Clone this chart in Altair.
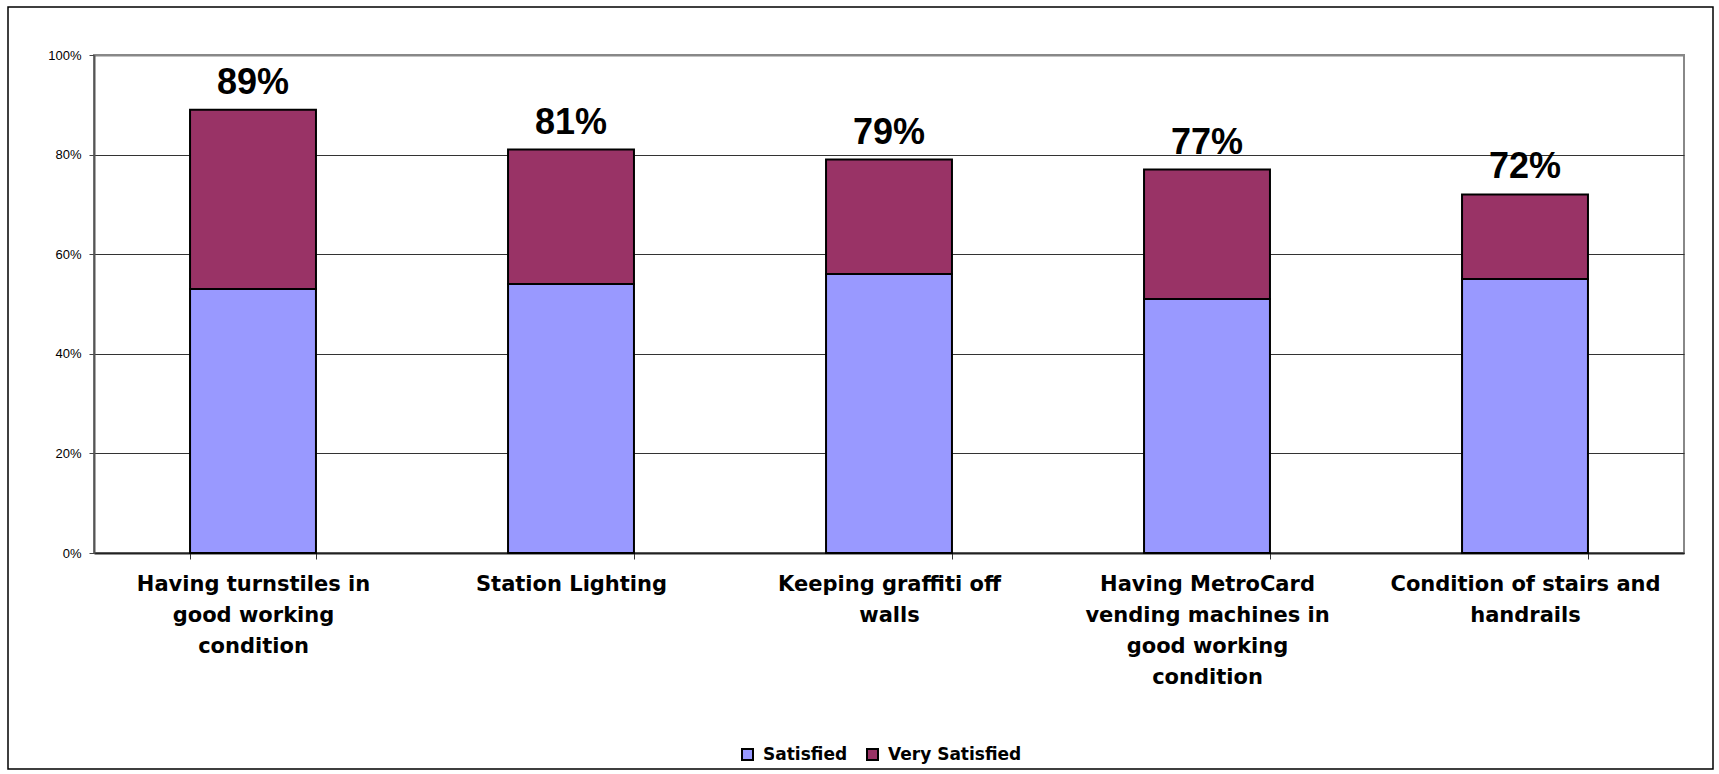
import json

import altair as alt
import pandas as pd

# Survey items (full names) and how each is broken onto lines under the axis
categories = [
    "Having turnstiles in good working condition",
    "Station Lighting",
    "Keeping graffiti off walls",
    "Having MetroCard vending machines in good working condition",
    "Condition of stairs and handrails",
]
label_lines = [
    ["Having turnstiles in", "good working", "condition"],
    ["Station Lighting"],
    ["Keeping graffiti off", "walls"],
    ["Having MetroCard", "vending machines in", "good working", "condition"],
    ["Condition of stairs and", "handrails"],
]

# Share of riders (percent)
satisfied = [53, 54, 56, 51, 55]
very_satisfied = [36, 27, 23, 26, 17]

series = ["Satisfied", "Very Satisfied"]
colors = ["#9999FF", "#993366"]

rows = []
for cat, s, v in zip(categories, satisfied, very_satisfied):
    rows.append({"item": cat, "group": series[0], "rank": 0, "share": s / 100})
    rows.append({"item": cat, "group": series[1], "rank": 1, "share": v / 100})
bars_df = pd.DataFrame(rows)

totals_df = pd.DataFrame(
    {
        "item": categories,
        "total": [(s + v) / 100 for s, v in zip(satisfied, very_satisfied)],
    }
)

W, H = 1590, 498

label_map = json.dumps(dict(zip(categories, label_lines)))

x_enc = alt.X(
    "item:N",
    sort=categories,
    scale=alt.Scale(paddingInner=0.604, paddingOuter=0.302),
    axis=alt.Axis(
        title=None,
        labelExpr=label_map + "[datum.value]",
        labelAngle=0,
        labelLimit=0,
        labelFont="DejaVu Sans",
        labelFontWeight="bold",
        labelFontSize=21,
        labelColor="#000000",
        labelLineHeight=31,
        labelBaseline="top",
        labelPadding=14,
        tickBand="extent",
        tickSize=6,
        tickColor="#333333",
        tickWidth=1,
        domainColor="#222222",
        domainWidth=2,
        grid=False,
    ),
)

bars = (
    alt.Chart(bars_df)
    .mark_bar(stroke="#000000", strokeWidth=2)
    .encode(
        x=x_enc,
        y=alt.Y(
            "share:Q",
            stack="zero",
            scale=alt.Scale(domain=[0, 1], nice=False),
            axis=alt.Axis(
                title=None,
                values=[0, 0.2, 0.4, 0.6, 0.8, 1.0],
                format=".0%",
                labelFont="Liberation Sans",
                labelFontSize=13,
                labelColor="#000000",
                labelPadding=8,
                tickSize=5,
                tickColor="#444444",
                tickWidth=1,
                domainColor="#555555",
                domainWidth=2,
                grid=True,
                gridColor=alt.condition(
                    "datum.value >= 1", alt.value("#888888"), alt.value("#333333")
                ),
                gridWidth=alt.condition(
                    "datum.value >= 1", alt.value(2), alt.value(1)
                ),
            ),
        ),
        color=alt.Color(
            "group:N",
            scale=alt.Scale(domain=series, range=colors),
            legend=alt.Legend(
                title=None,
                orient="none",
                direction="horizontal",
                legendX=645,
                legendY=691,
                symbolType="square",
                symbolSize=121,
                symbolStrokeColor="#000000",
                symbolStrokeWidth=2,
                symbolOpacity=1,
                labelFont="DejaVu Sans",
                labelFontWeight="bold",
                labelFontSize=17,
                labelColor="#000000",
                labelOffset=7,
                columnPadding=15,
            ),
        ),
        order=alt.Order("rank:Q", sort="ascending"),
    )
)

labels = (
    alt.Chart(totals_df)
    .mark_text(
        font="Liberation Sans",
        fontWeight="bold",
        fontSize=36,
        color="#000000",
        baseline="bottom",
        dy=-8,
    )
    .encode(
        x=alt.X("item:N", sort=categories),
        y=alt.Y("total:Q"),
        text=alt.Text("total:Q", format=".0%"),
    )
)

# Thin frame around the whole figure
frame = (
    alt.Chart(alt.Data(values=[{}]))
    .mark_rect(fill=None, stroke="#000000", strokeWidth=1.5)
    .encode(
        x=alt.value(-86),
        x2=alt.value(W + 29),
        y=alt.value(-48),
        y2=alt.value(H + 216),
    )
)

chart = (
    alt.layer(bars, labels, frame)
    .properties(
        width=W,
        height=H,
        autosize=alt.AutoSizeParams(type="none"),
        padding={"left": 94, "top": 55, "right": 35, "bottom": 221},
        background="#FFFFFF",
    )
    .configure_view(stroke="#888888", strokeWidth=2)
)

chart.save("out.html", embed_options={"renderer": "svg", "actions": False})
